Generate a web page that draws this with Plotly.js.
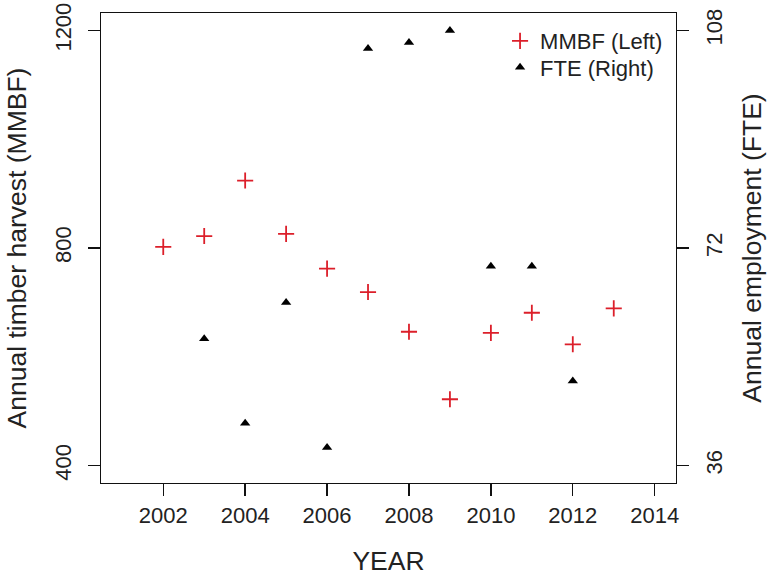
<!DOCTYPE html>
<html>
<head>
<meta charset="utf-8">
<script src="https://cdn.plot.ly/plotly-3.0.1.min.js"></script>
<style>html,body{margin:0;padding:0;background:#fff;}#chart{width:767px;height:576px;}</style>
</head>
<body>
<div id="chart"></div>
<script>
// Data
var years = [2002, 2003, 2004, 2005, 2006, 2007, 2008, 2009, 2010, 2011, 2012, 2013];
var mmbf = [802, 822, 924, 826, 762, 719, 646, 522, 644, 681, 623, 689];
var fteYears = [2003, 2004, 2005, 2006, 2007, 2008, 2009, 2010, 2011, 2012];
var fte = [57, 43, 63, 39, 105, 106, 108, 69, 69, 50];
var xTicks = [2002, 2004, 2006, 2008, 2010, 2012, 2014];
var leftTicks = [400, 800, 1200];
var rightTicks = [36, 72, 108];

var FONT = 'Liberation Sans, Arial, sans-serif';
var TXT = '#222';
var TICKSZ = 22;
var TITLESZ = 26.5;
var RED = '#dc1f2a';

var traces = [
  {
    x: years, y: mmbf, type: 'scatter', mode: 'markers', name: 'MMBF (Left)',
    marker: {symbol: 'cross-thin-open', size: 11.5, color: RED, line: {color: RED, width: 1.8}},
    yaxis: 'y', legend: 'legend'
  },
  {
    x: fteYears, y: fte, type: 'scatter', mode: 'markers', name: 'FTE (Right)',
    marker: {symbol: 'triangle-up', size: 9, color: '#000'},
    yaxis: 'y2', legend: 'legend2'
  }
];

var legendBase = {xanchor: 'left', yanchor: 'top', bgcolor: 'rgba(0,0,0,0)',
                  font: {family: FONT, size: 22, color: TXT}};

var layout = {
  width: 767, height: 576,
  margin: {l: 101, r: 91, t: 13, b: 93, pad: 0},
  paper_bgcolor: '#fff', plot_bgcolor: '#fff',
  font: {family: FONT, size: TICKSZ, color: TXT},
  showlegend: true,
  legend: Object.assign({}, legendBase, {x: 0.694, y: 0.985}),
  legend2: Object.assign({}, legendBase, {x: 0.694, y: 0.929}),
  xaxis: {
    range: [2000.48, 2014.52], tickvals: xTicks, ticktext: xTicks.map(String),
    showgrid: false, zeroline: false, showline: true, mirror: true, linecolor: '#111', linewidth: 1.4,
    ticks: 'outside', ticklen: 12, tickwidth: 1.4, tickcolor: '#111',
    tickfont: {family: FONT, size: TICKSZ, color: TXT},
    title: {text: 'YEAR', font: {family: FONT, size: TITLESZ, color: TXT}, standoff: 29},
    automargin: false
  },
  yaxis: {
    range: [368, 1232], tickvals: leftTicks, ticktext: leftTicks.map(String),
    showgrid: false, zeroline: false, showline: true, mirror: true, linecolor: '#111', linewidth: 1.4,
    ticks: 'outside', ticklen: 12, tickwidth: 1.4, tickcolor: '#111', tickangle: -90,
    ticklabelstandoff: 8,
    tickfont: {family: FONT, size: TICKSZ, color: TXT},
    title: {text: 'Annual timber harvest (MMBF)', font: {family: FONT, size: TITLESZ, color: TXT}, standoff: 16},
    automargin: false
  },
  yaxis2: {
    range: [33.12, 110.88], tickvals: rightTicks, ticktext: rightTicks.map(String),
    overlaying: 'y', side: 'right',
    showgrid: false, zeroline: false, showline: false,
    ticks: 'outside', ticklen: 12, tickwidth: 1.4, tickcolor: '#111', tickangle: -90,
    ticklabelstandoff: 7,
    tickfont: {family: FONT, size: TICKSZ, color: TXT},
    title: {text: 'Annual employment (FTE)', font: {family: FONT, size: TITLESZ, color: TXT}, standoff: 22},
    automargin: false
  }
};

Plotly.newPlot('chart', traces, layout, {staticPlot: true, displayModeBar: false});
</script>
</body>
</html>
